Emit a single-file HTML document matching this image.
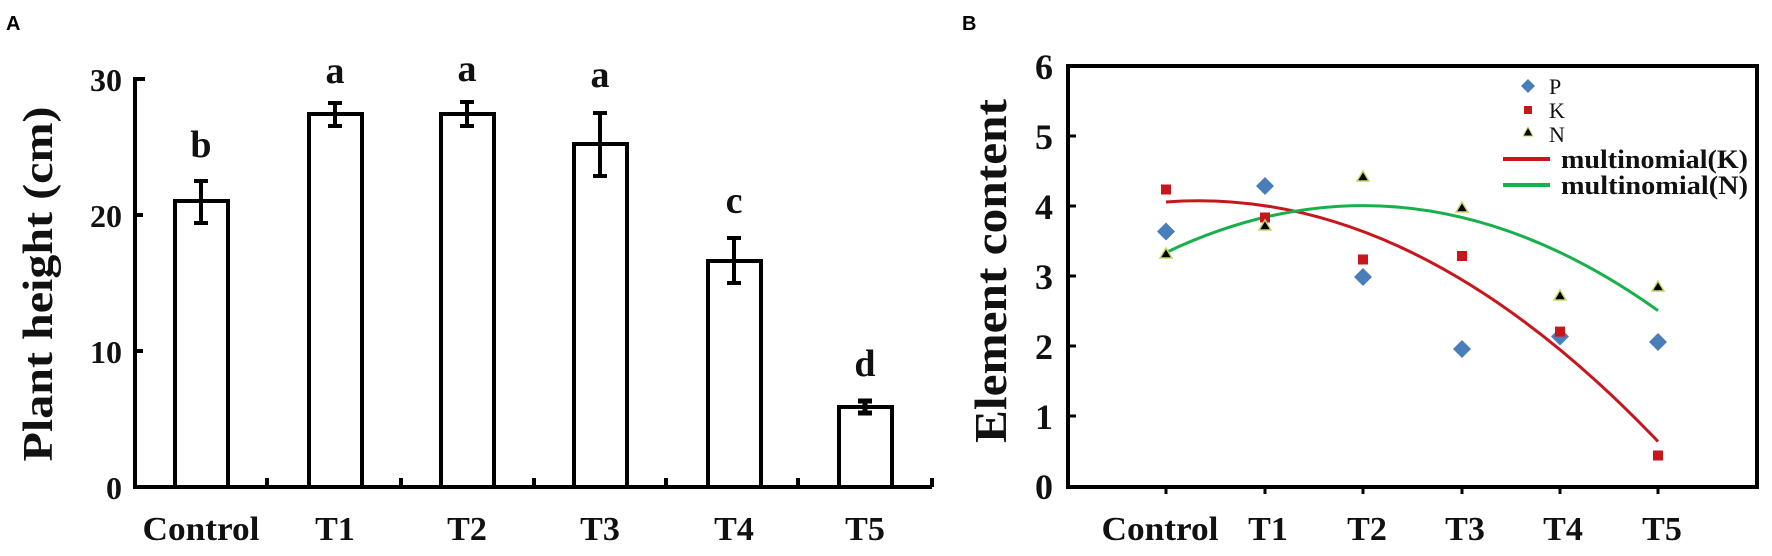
<!DOCTYPE html>
<html><head><meta charset="utf-8"><style>
html,body{margin:0;padding:0;background:#fff;}
svg{display:block;}
.t{font-family:"Liberation Serif",serif;font-weight:bold;fill:#111;}
</style></head><body>
<svg width="1772" height="556" viewBox="0 0 1772 556" xmlns="http://www.w3.org/2000/svg">
<text x="6" y="30" font-family="Liberation Sans,sans-serif" font-weight="bold" font-size="20">A</text>
<text x="962" y="30" font-family="Liberation Sans,sans-serif" font-weight="bold" font-size="20">B</text>

<!-- Panel A -->
<g stroke="#000" stroke-width="4" fill="none">
<path d="M145,79 H135 V487 H932"/>
<path d="M135,215 H143 M135,351 H143"/>
<path d="M267,487 V478 M401,487 V478 M534,487 V478 M666,487 V478 M798,487 V478 M932,487 V478"/>
<rect x="175" y="201" width="53" height="286" fill="#fff"/>
<rect x="309" y="114" width="53" height="373" fill="#fff"/>
<rect x="441" y="114" width="53" height="373" fill="#fff"/>
<rect x="574" y="144" width="53" height="343" fill="#fff"/>
<rect x="708" y="261" width="53" height="226" fill="#fff"/>
<rect x="839" y="407" width="53" height="80" fill="#fff"/>
<path d="M201,181 V223 M194,181 H208 M194,223 H208"/>
<path d="M335,103 V126 M328,103 H342 M328,126 H342"/>
<path d="M467,102 V126 M460,102 H474 M460,126 H474"/>
<path d="M600,113 V176 M593,113 H607 M593,176 H607"/>
<path d="M734,238 V283 M727,238 H741 M727,283 H741"/>
<path d="M865,401 V413 M858,401 H872 M858,413 H872" stroke-width="5"/>
</g>
<g class="t" font-size="32" text-anchor="end">
<text x="122" y="91">30</text><text x="122" y="227">20</text><text x="122" y="363">10</text><text x="122" y="499">0</text>
</g>
<g class="t" font-size="34" text-anchor="middle">
<text x="201" y="540" textLength="117" lengthAdjust="spacingAndGlyphs">Control</text>
<text x="335" y="540">T1</text><text x="467" y="540">T2</text><text x="600" y="540">T3</text><text x="734" y="540">T4</text><text x="865" y="540">T5</text>
</g>
<g class="t" font-size="38" text-anchor="middle">
<text x="201" y="157">b</text><text x="335" y="83">a</text><text x="467" y="81">a</text><text x="600" y="87">a</text><text x="734" y="213">c</text><text x="865" y="376">d</text>
</g>
<text class="t" font-size="42" text-anchor="middle" transform="translate(52,284) rotate(-90)" textLength="355" lengthAdjust="spacingAndGlyphs">Plant height (cm)</text>

<!-- Panel B -->
<rect x="1068" y="66" width="689" height="421" fill="none" stroke="#000" stroke-width="4"/>
<g stroke="#000" stroke-width="3">
<path d="M1068,136 H1076 M1068,206 H1076 M1068,276 H1076 M1068,346 H1076 M1068,416 H1076"/>
<path d="M1166,487 V494 M1265,487 V494 M1363,487 V494 M1462,487 V494 M1560,487 V494 M1658,487 V494"/>
</g>
<g class="t" font-size="36" text-anchor="end">
<text x="1053" y="79">6</text><text x="1053" y="149">5</text><text x="1053" y="219">4</text><text x="1053" y="289">3</text><text x="1053" y="359">2</text><text x="1053" y="429">1</text><text x="1053" y="499">0</text>
</g>
<g class="t" font-size="34" text-anchor="middle">
<text x="1160" y="540" textLength="117" lengthAdjust="spacingAndGlyphs">Control</text>
<text x="1268" y="540">T1</text><text x="1367" y="540">T2</text><text x="1465" y="540">T3</text><text x="1563" y="540">T4</text><text x="1662" y="540">T5</text>
</g>
<text class="t" font-size="46" text-anchor="middle" transform="translate(1006,271) rotate(-90)" textLength="344" lengthAdjust="spacingAndGlyphs">Element content</text>

<path d="M1166,202 Q1412,183.5 1658,441.5" fill="none" stroke="#c8161d" stroke-width="3"/>
<path d="M1166,252.5 Q1412,135.4 1658,310.6" fill="none" stroke="#18b04a" stroke-width="3"/>

<g fill="#4a7ebb">
<path d="M1166,222.5 l9,9 l-9,9 l-9,-9z"/>
<path d="M1265,177 l9,9 l-9,9 l-9,-9z"/>
<path d="M1363,268 l9,9 l-9,9 l-9,-9z"/>
<path d="M1462,340 l9,9 l-9,9 l-9,-9z"/>
<path d="M1560,327.5 l9,9 l-9,9 l-9,-9z"/>
<path d="M1658,333 l9,9 l-9,9 l-9,-9z"/>
</g>
<g fill="#c8161d">
<rect x="1161" y="184.5" width="10" height="10"/>
<rect x="1260" y="212.5" width="10" height="10"/>
<rect x="1358" y="254.5" width="10" height="10"/>
<rect x="1457" y="251" width="10" height="10"/>
<rect x="1555" y="326.6" width="10" height="10"/>
<rect x="1653" y="450.5" width="10" height="10"/>
</g>
<g fill="#000" stroke="#c9d66a" stroke-width="1.5">
<path d="M1166,248 l6,10 h-12z"/>
<path d="M1265,220 l6,10 h-12z"/>
<path d="M1363,171 l6,10 h-12z"/>
<path d="M1462,202 l6,10 h-12z"/>
<path d="M1560,290 l6,10 h-12z"/>
<path d="M1658,281 l6,10 h-12z"/>
</g>

<!-- legend -->
<path d="M1528,79 l7,7 l-7,7 l-7,-7z" fill="#4a7ebb"/>
<rect x="1524" y="106" width="8" height="8" fill="#c8161d"/>
<path d="M1528,127 l5,9 h-10z" fill="#000" stroke="#c9d66a" stroke-width="1"/>
<g font-family="Liberation Serif,serif" font-size="22" fill="#111">
<text x="1549" y="94">P</text><text x="1549" y="118">K</text><text x="1549" y="142">N</text>
</g>
<path d="M1503,159 H1550" stroke="#c8161d" stroke-width="4"/>
<path d="M1503,185 H1550" stroke="#18b04a" stroke-width="4"/>
<g class="t" font-size="26">
<text x="1561" y="168" textLength="187" lengthAdjust="spacingAndGlyphs">multinomial(K)</text>
<text x="1561" y="194" textLength="187" lengthAdjust="spacingAndGlyphs">multinomial(N)</text>
</g>
</svg>
</body></html>
